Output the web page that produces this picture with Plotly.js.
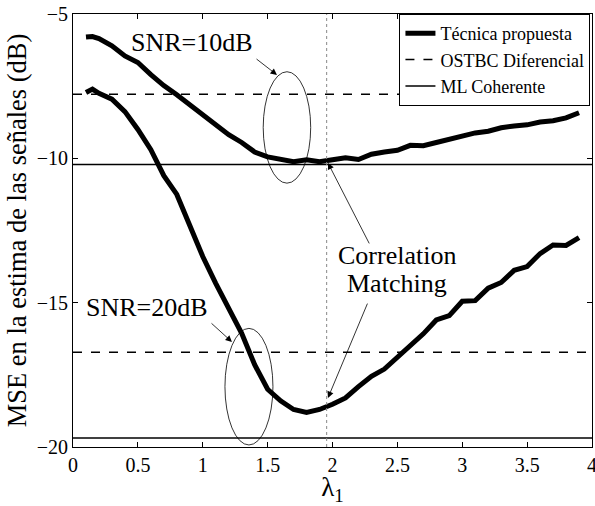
<!DOCTYPE html>
<html>
<head>
<meta charset="utf-8">
<script src="https://cdn.plot.ly/plotly-3.0.1.min.js"></script>
<style>body{margin:0;padding:0;background:#fff}#plot{width:595px;height:506px}</style>
</head>
<body>
<div id="plot"></div>
<script>
// lambda_1 values
const lambda1 = [0.1,0.15,0.2,0.3,0.4,0.5,0.6,0.7,0.8,0.9,1.0,1.1,1.2,1.3,1.4,1.5,1.6,1.7,1.8,1.9,2.0,2.1,2.2,2.3,2.4,2.5,2.6,2.7,2.8,2.9,3.0,3.1,3.2,3.3,3.4,3.5,3.6,3.7,3.8,3.9];
// Técnica propuesta, SNR = 10 dB
const mse10 = [-5.80,-5.78,-5.85,-6.10,-6.45,-6.68,-7.10,-7.48,-7.80,-8.15,-8.50,-8.88,-9.18,-9.45,-9.78,-9.95,-10.05,-10.12,-10.05,-10.12,-10.05,-9.98,-10.04,-9.86,-9.78,-9.72,-9.55,-9.56,-9.45,-9.34,-9.22,-9.12,-9.06,-8.94,-8.88,-8.84,-8.74,-8.70,-8.60,-8.42];
// Técnica propuesta, SNR = 20 dB
const mse20 = [-7.72,-7.60,-7.75,-7.95,-8.38,-9.00,-9.70,-10.60,-11.25,-12.35,-13.40,-14.33,-15.15,-16.06,-17.15,-18.00,-18.40,-18.70,-18.80,-18.70,-18.52,-18.30,-17.91,-17.55,-17.30,-16.90,-16.50,-16.08,-15.60,-15.45,-14.95,-14.93,-14.50,-14.30,-13.88,-13.75,-13.30,-13.00,-13.02,-12.75];
// reference levels [SNR=10dB, SNR=20dB]
const ostbc = [-7.78, -16.72];
const mlCoh = [-10.21, -19.69];
const xSpan = [0, 4];
const cmLambda = 1.955;
const xTicks = [0,0.5,1,1.5,2,2.5,3,3.5,4];
const yTicks = [-20,-15,-10,-5];

const F = 'Liberation Serif';
const traces = [
  {x: lambda1, y: mse10, mode:'lines', name:'Técnica propuesta', legendgroup:'tp', line:{color:'#000', width:5}},
  {x: lambda1, y: mse20, mode:'lines', name:'Técnica propuesta', legendgroup:'tp', showlegend:false, line:{color:'#000', width:5}},
  {x: xSpan, y: [ostbc[0], ostbc[0]], mode:'lines', name:'OSTBC Diferencial', legendgroup:'os', line:{color:'#000', width:1.5, dash:'dash'}},
  {x: xSpan, y: [ostbc[1], ostbc[1]], mode:'lines', name:'OSTBC Diferencial', legendgroup:'os', showlegend:false, line:{color:'#000', width:1.5, dash:'dash'}},
  {x: xSpan, y: [mlCoh[0], mlCoh[0]], mode:'lines', name:'ML Coherente', legendgroup:'ml', line:{color:'#000', width:1.5}},
  {x: xSpan, y: [mlCoh[1], mlCoh[1]], mode:'lines', name:'ML Coherente', legendgroup:'ml', showlegend:false, line:{color:'#000', width:1.5}}
];

const arrow = (hx, hy, tx, ty) => ({x:hx, y:hy, ax:tx, ay:ty, axref:'x', ayref:'y', xref:'x', yref:'y', text:'', showarrow:true, arrowhead:2, arrowsize:1.6, arrowwidth:0.8, arrowcolor:'#000'});

const layout = {
  width:595, height:506,
  margin:{l:73, r:3, t:14, b:59},
  paper_bgcolor:'#fff', plot_bgcolor:'#fff',
  font:{family:F, size:20, color:'#000'},
  showlegend:true,
  legend:{x:0.997, y:1.0, xanchor:'right', yanchor:'top', bgcolor:'#fff', bordercolor:'#000', borderwidth:1, font:{family:F, size:18}, tracegroupgap:0, itemwidth:30},
  xaxis:{range:[0,4], tickvals:xTicks, ticktext:xTicks.map(String), ticks:'inside', ticklen:5, tickcolor:'#000', showline:true, linecolor:'#000', linewidth:1, mirror:'ticks', showgrid:false, zeroline:false, ticklabeloverflow:'allow',
         tickfont:{family:F, size:20}, title:{text:'λ<sub>1</sub>', font:{family:F, size:27}, standoff:4}},
  yaxis:{range:[-20,-5], tickvals:yTicks, ticktext:yTicks.map(v=>'\u2212'+Math.abs(v)), ticks:'inside', ticklen:5, tickcolor:'#000', showline:true, linecolor:'#000', linewidth:1, mirror:'ticks', showgrid:false, zeroline:false, ticklabeloverflow:'allow',
         tickfont:{family:F, size:20}, title:{text:'MSE en la estima de las señales (dB)', font:{family:F, size:26.5}, standoff:2}},
  shapes:[
    {type:'line', xref:'x', yref:'paper', x0:cmLambda, x1:cmLambda, y0:0, y1:1, line:{color:'#888', width:1, dash:'dot'}},
    {type:'circle', xref:'x', yref:'y', x0:1.466, x1:1.832, y0:-10.86, y1:-7.0, line:{color:'#000', width:0.8}},
    {type:'circle', xref:'x', yref:'y', x0:1.171, x1:1.541, y0:-19.93, y1:-15.89, line:{color:'#000', width:0.8}}
  ],
  annotations:[
    {x:0.917, y:-6.0, xref:'x', yref:'y', text:'SNR=10dB', showarrow:false, font:{family:F, size:26}},
    {x:0.570, y:-15.15, xref:'x', yref:'y', text:'SNR=20dB', showarrow:false, font:{family:F, size:26}},
    {x:2.50, y:-13.38, xref:'x', yref:'y', text:'Correlation', showarrow:false, font:{family:F, size:26}},
    {x:2.50, y:-14.35, xref:'x', yref:'y', text:'Matching', showarrow:false, font:{family:F, size:26}},
    arrow(1.572, -7.11, 1.403, -6.52),
    arrow(1.225, -16.36, 1.056, -15.67),
    arrow(1.965, -10.16, 2.289, -13.0),
    arrow(1.965, -18.30, 2.274, -14.98)
  ]
};
Plotly.newPlot('plot', traces, layout, {displayModeBar:false, staticPlot:true});
</script>
</body>
</html>
